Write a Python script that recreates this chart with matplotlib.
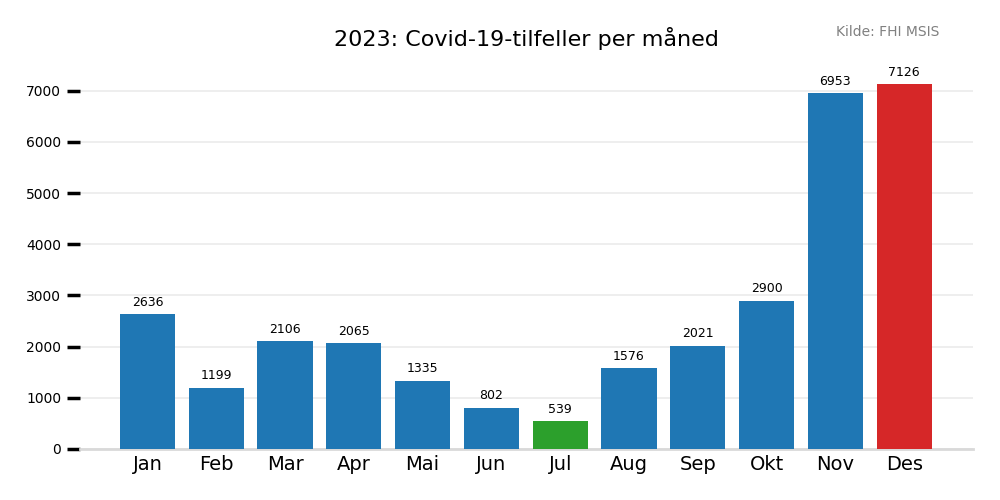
import matplotlib.pyplot as plt

months = ["Jan", "Feb", "Mar", "Apr", "Mai", "Jun", "Jul", "Aug", "Sep", "Okt", "Nov", "Des"]
cases = [2636, 1199, 2106, 2065, 1335, 802, 539, 1576, 2021, 2900, 6953, 7126]

BLUE = "#1f77b4"
colors = [BLUE] * len(months)
colors[cases.index(min(cases))] = "#2ca02c"
colors[cases.index(max(cases))] = "#d62728"

fig = plt.figure(figsize=(10, 5), dpi=100)
ax = fig.add_axes([0.08, 0.102, 0.893, 0.766])

x = range(len(months))
bars = ax.bar(x, cases, width=0.8, color=colors, zorder=3)
for b, v in zip(bars, cases):
    ax.annotate(str(v), (b.get_x() + b.get_width() / 2, v), xytext=(0, 4),
                textcoords="offset points", ha="center", va="bottom", fontsize=9)

ax.set_xlim(-0.98, 12.0)
ax.set_ylim(0, 7126 * 1.05)
ax.set_xticks(list(x))
ax.set_xticklabels(months, fontsize=14)
ax.set_yticks(range(0, 8000, 1000))
ax.tick_params(axis="x", length=0, pad=4)
ax.tick_params(axis="y", length=9.5, width=2.5, labelsize=10, pad=4)
ax.grid(axis="y", color="#ebebeb", linewidth=1.2, zorder=0)

for s in ["top", "right", "left"]:
    ax.spines[s].set_visible(False)
ax.spines["bottom"].set_color("#d9d9d9")
ax.spines["bottom"].set_linewidth(2)

fig.text(0.526, 0.923, "2023: Covid-19-tilfeller per måned", ha="center", va="center", fontsize=16)
fig.text(0.888, 0.935, "Kilde: FHI MSIS", ha="center", va="center", fontsize=10, color="gray")

fig.savefig("out.png")
